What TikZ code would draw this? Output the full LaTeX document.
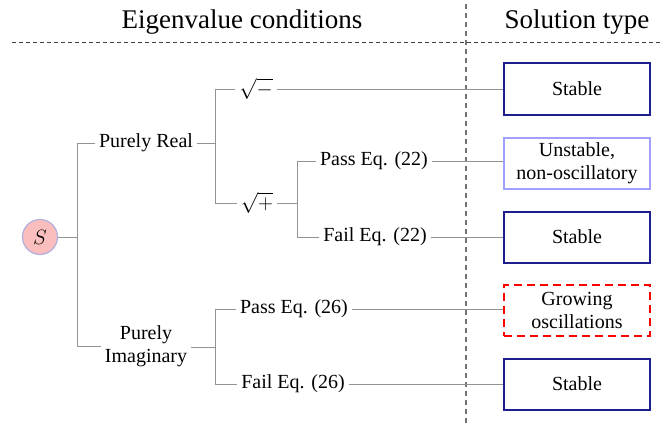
\documentclass[tikz,border=0pt]{standalone}
\usepackage{fontspec}
\setmainfont{Liberation Serif}
\usepackage{amsmath}
\definecolor{navy}{RGB}{30,30,140}
\definecolor{lilac}{RGB}{160,160,255}
\definecolor{rose}{RGB}{250,190,190}
\definecolor{ring}{RGB}{175,175,225}

\begin{document}
\begin{tikzpicture}[x=1pt,y=-1pt,font=\fontsize{20}{23}\selectfont,
		wire/.style={draw=gray!85, line width=1pt},
		cond/.style={inner sep=4pt, align=center},
		sol/.style={draw, line width=2pt, minimum width=146pt, minimum height=51pt, align=center, inner sep=2pt},
		stable/.style={sol, draw=navy},
		head/.style={font=\fontsize{27}{30}\selectfont}]
				\useasboundingbox (0,0) rectangle (672,428);

				% headings and dividers
				\node[head] (H1) at (242,22) {Eigenvalue conditions};
				\node[head] (H2) at (577,22) {Solution type};
				\draw[black!75, line width=1pt, dash pattern=on 4pt off 3pt] (12,43) -- (662,43);
				\draw[black!55, line width=1.2pt, dash pattern=on 5pt off 4pt] (466,4) -- (466,424);

				% tree
				\node[circle, fill=rose, draw=ring, line width=1.2pt, minimum size=35pt, inner sep=0pt] (S) at (40,237) {$S$};
				\node[cond] (R)  at (146,143) {Purely Real};
				\node[cond] (I)  at (146,346) {Purely\\Imaginary};
				\node[cond] (M)  at (256,89)  {$\sqrt{-}$};
				\node[cond] (P)  at (257,203) {$\sqrt{+}$};
				\node[cond] (P22) at (374,161) {Pass Eq. (22)};
				\node[cond] (F22) at (375,237) {Fail Eq. (22)};
				\node[cond] (P26) at (294,309) {Pass Eq. (26)};
				\node[cond] (F26) at (293,384) {Fail Eq. (26)};

				\coordinate (j0) at (77,237);
				\coordinate (j1) at (215,143);
				\coordinate (j2) at (297,203);
				\coordinate (j3) at (215,347);

				% outcomes
				\node[stable] (B1) at (577,89)  {Stable};
				\node[sol, draw=lilac] (B2) at (577,163) {Unstable,\\non-oscillatory};
				\node[stable] (B3) at (577,237) {Stable};
				\node[sol, draw=red, dash pattern=on 8pt off 5pt] (B4) at (577,310) {Growing\\oscillations};
				\node[stable] (B5) at (577,384) {Stable};

				\draw[wire] (S) -- (j0) |- (R);
				\draw[wire] (j0) |- (I);
				\draw[wire] (R) -- (j1) |- (M);
				\draw[wire] (j1) |- (P);
				\draw[wire] (P) -- (j2) |- (P22);
				\draw[wire] (j2) |- (F22);
				\draw[wire] (I.east |- j3) -- (j3) |- (P26);
				\draw[wire] (j3) |- (F26);

				\draw[wire] (M) -- (M -| B1.west);
				\draw[wire] (P22) -- (P22 -| B2.west);
				\draw[wire] (F22) -- (F22 -| B3.west);
				\draw[wire] (P26) -- (P26 -| B4.west);
				\draw[wire] (F26) -- (F26 -| B5.west);
\end{tikzpicture}
\end{document}
